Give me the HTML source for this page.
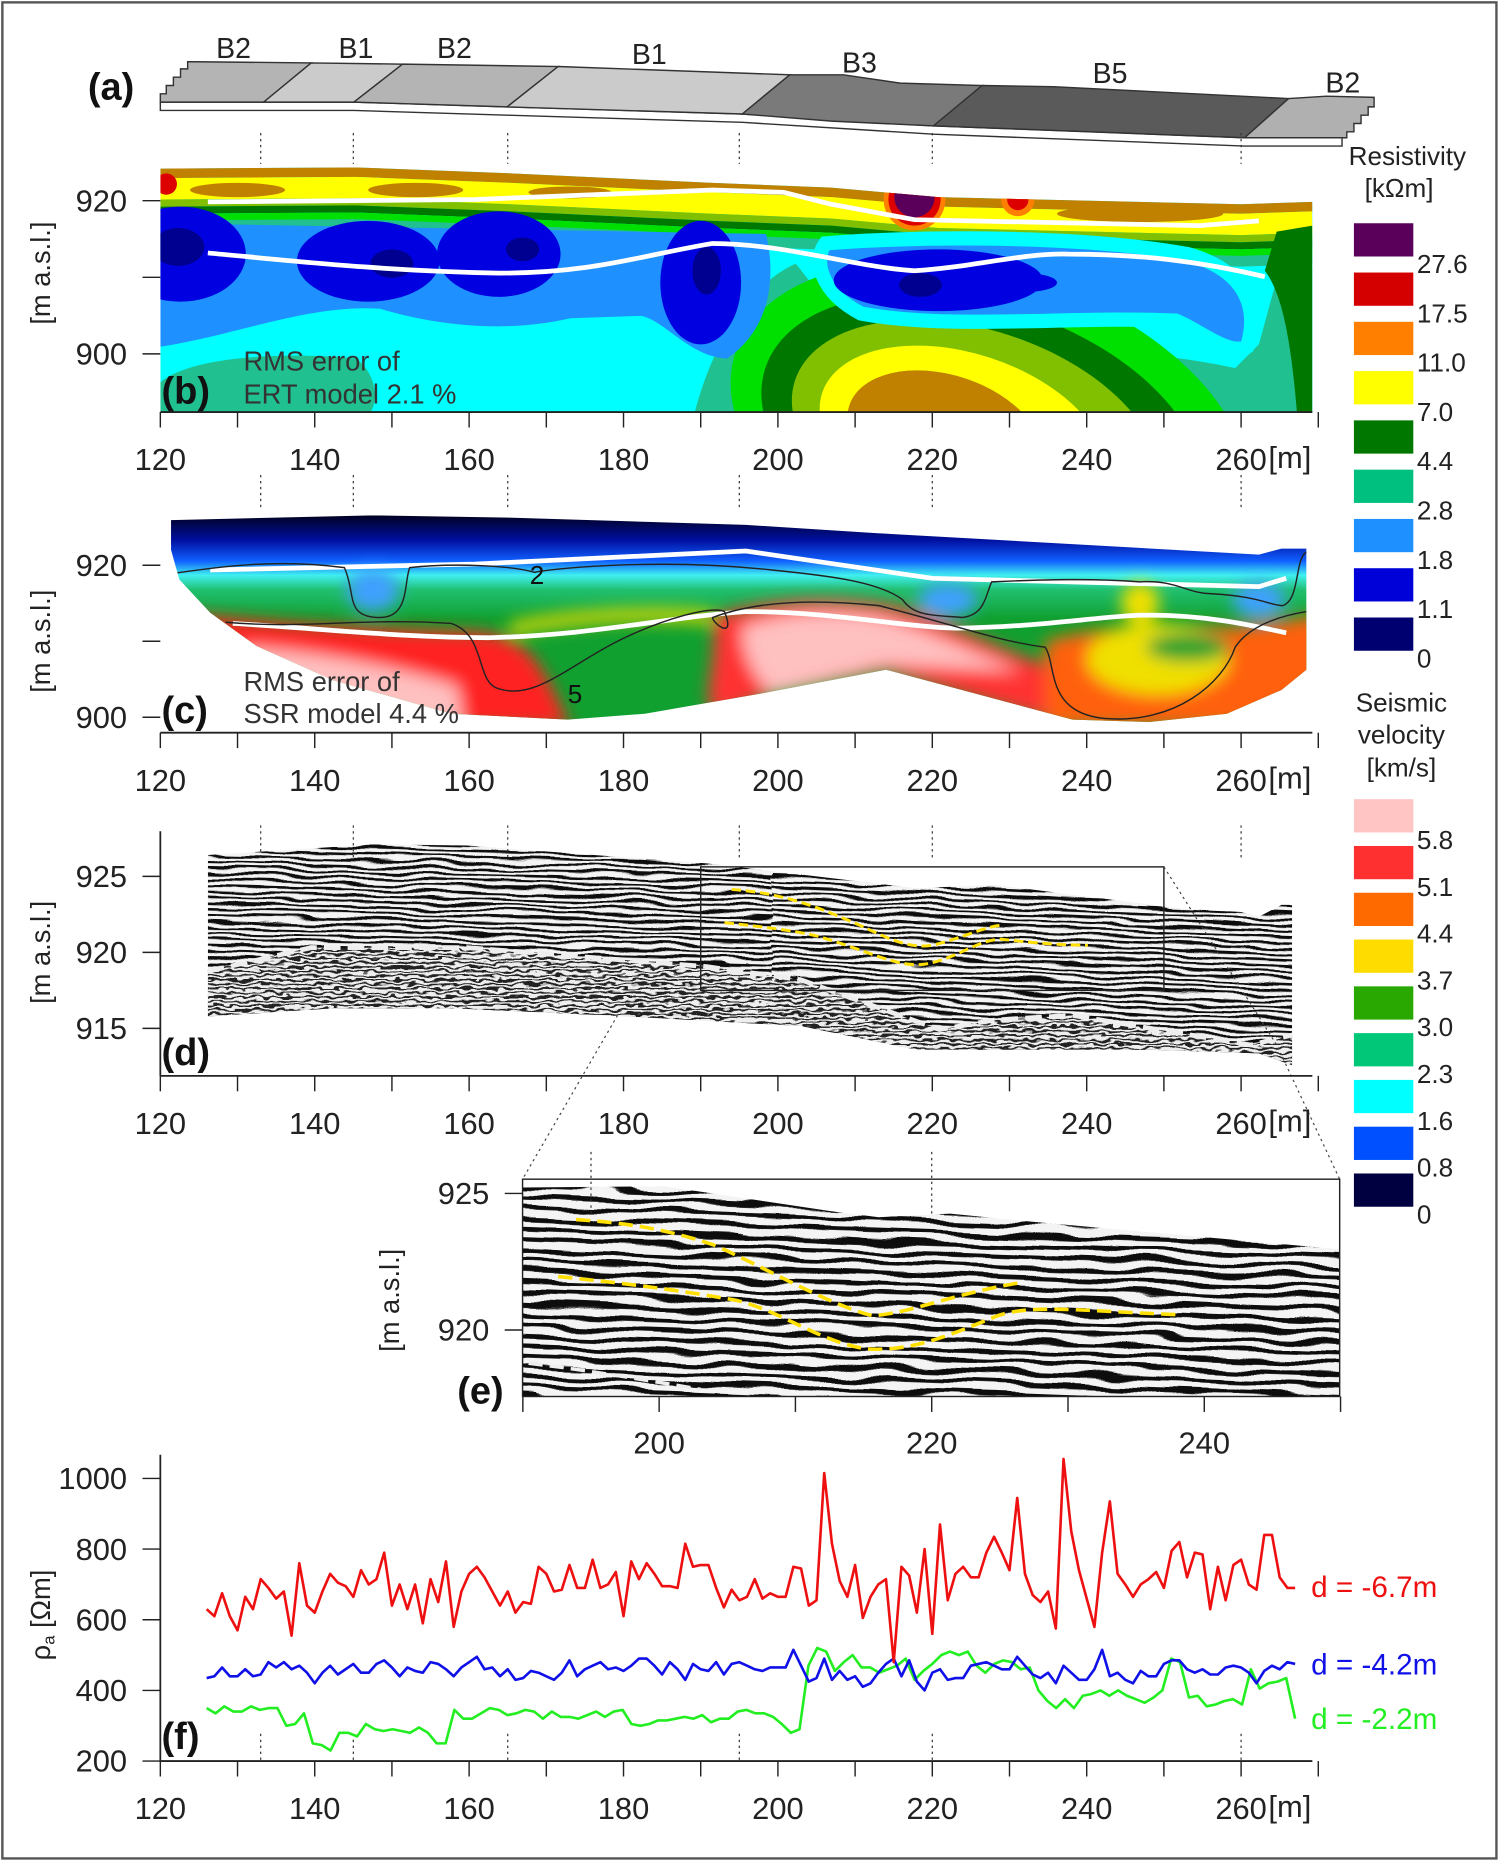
<!DOCTYPE html>
<html><head><meta charset="utf-8">
<style>
html,body{margin:0;padding:0;background:#fff;}
svg{display:block;}
text{font-family:"Liberation Sans Narrow","Liberation Sans",sans-serif;}
.tk{font-size:26px;fill:#222;}
.lg{font-family:"Liberation Sans",sans-serif;font-size:22px;fill:#222;}
.pl{font-family:"Liberation Sans Narrow","Liberation Sans",sans-serif;font-size:32px;font-weight:bold;fill:#111;}
</style></head>
<body>
<svg id="fig" width="1500" height="1862" viewBox="0 0 1263 1568" preserveAspectRatio="none" xmlns="http://www.w3.org/2000/svg">
<defs>
 <clipPath id="clipB"><path d="M135,142 L300,141 L430,146 L600,154 L700,158 L790,166 L1045,172 L1105,170 L1105,347 L135,347Z"/></clipPath>
 <clipPath id="clipC"><path d="M144,438 L314,434 L432,436 L628,442 L739,449 L1060,467 L1079,462 L1100,462 L1100,564 L1079,581 L1033,601 L968,608 L903,606 L746,564 L641,584 L543,601 L478,606 L380,601 L281,573 L216,544 L177,516 L151,488 L144,463Z"/></clipPath>
 <clipPath id="clipD"><path d="M175,720 L222,717 L314,711 L393,712 L595,727 L772,748 L837,745 L994,765 L1045,768 L1060,772 L1079,762 L1088,762 L1088,897 L1060,887 L968,884 L772,884 L674,864 L510,855 L380,849 L281,849 L175,856Z"/></clipPath>
 <clipPath id="clipDlow"><path d="M170,818 L262,798 L393,798 L595,814 L674,825 L791,867 L837,859 L903,855 L1053,880 L1099,869 L1099,900 L170,900Z"/></clipPath>
 <clipPath id="clipE"><path d="M440,1000 L560,999 L700,1020 L740,1025 L800,1022 L860,1028 L1128,1052 L1128,1176 L440,1176Z"/></clipPath>
 <linearGradient id="gC" x1="0" y1="434" x2="0" y2="608" gradientUnits="userSpaceOnUse">
  <stop offset="0" stop-color="#000020"/><stop offset="0.12" stop-color="#0010a0"/>
  <stop offset="0.22" stop-color="#1060ff"/><stop offset="0.29" stop-color="#40f0f0"/>
  <stop offset="0.36" stop-color="#20c070"/><stop offset="0.5" stop-color="#10a030"/><stop offset="1" stop-color="#10a030"/>
 </linearGradient>
 <filter id="blur6" x="-20%" y="-20%" width="140%" height="140%"><feGaussianBlur stdDeviation="7"/></filter>
 <pattern id="strD" width="60" height="5" patternUnits="userSpaceOnUse"><rect width="60" height="5" fill="#f4f4f4"/><rect width="60" height="2.2" fill="#111"/></pattern>
 <pattern id="strDn" width="60" height="3.6" patternUnits="userSpaceOnUse"><rect width="60" height="3.6" fill="#eee"/><rect width="60" height="1.6" fill="#222"/></pattern>
 <pattern id="strE" width="60" height="9" patternUnits="userSpaceOnUse"><rect width="60" height="9" fill="#f4f4f4"/><rect width="60" height="4" fill="#111"/></pattern>
 <filter id="wavD" filterUnits="userSpaceOnUse" x="160" y="690" width="960" height="230">
  <feTurbulence type="fractalNoise" baseFrequency="0.02 0.08" numOctaves="2" seed="4" result="n"/>
  <feDisplacementMap in="SourceGraphic" in2="n" scale="9" xChannelSelector="R" yChannelSelector="G"/>
 </filter>
 <filter id="wavDn" filterUnits="userSpaceOnUse" x="160" y="690" width="960" height="230">
  <feTurbulence type="fractalNoise" baseFrequency="0.09 0.2" numOctaves="2" seed="9" result="n"/>
  <feDisplacementMap in="SourceGraphic" in2="n" scale="7" xChannelSelector="R" yChannelSelector="G"/>
 </filter>
 <filter id="wavE" filterUnits="userSpaceOnUse" x="430" y="985" width="710" height="200">
  <feTurbulence type="fractalNoise" baseFrequency="0.015 0.05" numOctaves="2" seed="11" result="n"/>
  <feDisplacementMap in="SourceGraphic" in2="n" scale="14" xChannelSelector="R" yChannelSelector="G"/>
 </filter>
</defs>

<rect x="2" y="2" width="1258" height="1563" fill="none" stroke="#555" stroke-width="2"/>

<!-- Panel (a) -->
<g stroke="#333" stroke-width="1.2">
 <path d="M135,86 L222,86 L298,86 L427,90 L625,96 L786,106 L1048,116 L1130,116 L1130,123 L1048,123 L786,113 L625,103 L427,97 L298,93 L222,93 L135,93Z" fill="#fff"/>
 <path d="M165,52 L262,53 L222,86 L135,86 L135,79 L140,79 L140,72 L146,72 L146,65 L152,65 L152,58 L158,58 L158,52Z" fill="#b4b4b4"/>
 <path d="M262,53 L339,54 L298,86 L222,86Z" fill="#cbcbcb"/>
 <path d="M339,54 L470,56 L427,90 L298,86Z" fill="#b4b4b4"/>
 <path d="M470,56 L665,63 L625,96 L427,90Z" fill="#cbcbcb"/>
 <path d="M665,63 L710,63 L758,70 L827,72 L786,106 L700,102 L625,96Z" fill="#7a7a7a"/>
 <path d="M827,72 L887,73 L1085,83 L1048,116 L920,111 L786,106Z" fill="#5a5a5a"/>
 <path d="M1085,83 L1117,81 L1157,82 L1157,90 L1152,90 L1152,97 L1146,97 L1146,104 L1140,104 L1140,111 L1134,111 L1134,116 L1048,116Z" fill="#b0b0b0"/>
</g>
<text class="pl" x="74" y="84">(a)</text>
<g font-size="24" fill="#222" font-family="Liberation Sans Narrow,Liberation Sans,sans-serif">
 <text x="182" y="49">B2</text>
 <text x="285" y="49">B1</text>
 <text x="368" y="49">B2</text>
 <text x="532" y="54">B1</text>
 <text x="709" y="61">B3</text>
 <text x="920" y="70">B5</text>
 <text x="1116" y="78">B2</text>
</g>

<!-- Panel (b) ERT -->
<g clip-path="url(#clipB)">
 <rect x="135" y="130" width="975" height="220" fill="#00ffff"/>
 <g fill="none">
  <path d="M135,143 L300,142 L430,147 L600,155 L700,159 L790,167 L1045,173 L1105,171" stroke="#c08000" stroke-width="14"/>
  <path d="M135,159 L300,158 L430,163 L600,171 L700,175 L790,183 L1045,189 L1105,187" stroke="#ffff00" stroke-width="18"/>
  <path d="M135,171 L300,170 L430,175 L600,183 L700,187 L790,195 L1045,201 L1105,199" stroke="#80c000" stroke-width="6"/>
  <path d="M135,177 L300,176 L430,181 L600,189 L700,193 L790,201 L1045,207 L1105,205" stroke="#007800" stroke-width="6"/>
  <path d="M135,183 L300,182 L430,187 L600,195 L700,199 L790,207 L1045,213 L1105,211" stroke="#00e000" stroke-width="6"/>
  <path d="M135,190 L300,189 L430,194 L600,202 L700,206 L790,214 L1045,220 L1105,218" stroke="#20c090" stroke-width="9"/>
 </g>
 <g fill="#c08000"><ellipse cx="200" cy="160" rx="40" ry="6"/><ellipse cx="350" cy="160" rx="40" ry="6"/><ellipse cx="480" cy="162" rx="35" ry="5"/><ellipse cx="960" cy="180" rx="70" ry="7"/></g>
 <path d="M585,347 C600,290 630,240 670,222 L700,260 C800,290 950,290 1040,310 L1060,290 L1075,235 L1105,225 L1105,347Z" fill="#20c090"/>
 <g transform="rotate(18 830 360)">
  <ellipse cx="835" cy="365" rx="225" ry="135" fill="#00e000"/>
  <ellipse cx="830" cy="370" rx="192" ry="112" fill="#007800"/>
  <ellipse cx="825" cy="372" rx="160" ry="92" fill="#80c000"/>
  <ellipse cx="815" cy="375" rx="125" ry="72" fill="#ffff00"/>
  <ellipse cx="800" cy="378" rx="85" ry="52" fill="#c08000"/>
 </g>
 <path d="M1075,195 L1105,190 L1105,347 L1092,347 C1088,300 1082,250 1065,228Z" fill="#007800"/>
 <path d="M135,347 L135,322 C160,300 240,296 300,302 C318,316 318,338 312,347Z" fill="#20c090"/>
 <path d="M135,188 L645,197 C655,240 645,280 612,302 C580,300 560,270 540,266 L480,268 C420,282 360,272 320,260 C260,256 200,282 135,292Z" fill="#1e90ff"/>
 <path d="M695,205 C750,200 900,196 1000,214 C1050,228 1060,260 1050,292 C1035,300 1010,278 990,270 C900,266 800,278 725,264 C690,246 685,218 695,205Z" fill="#1e90ff" stroke="#00ffff" stroke-width="12"/>
 <g fill="#0000e0">
  <ellipse cx="152" cy="214" rx="55" ry="40"/><ellipse cx="310" cy="220" rx="60" ry="34"/>
  <ellipse cx="420" cy="214" rx="52" ry="36"/><ellipse cx="590" cy="238" rx="34" ry="52"/>
  <ellipse cx="790" cy="236" rx="88" ry="26"/><ellipse cx="862" cy="238" rx="28" ry="8"/>
 </g>
 <g fill="#000090">
  <ellipse cx="150" cy="208" rx="22" ry="16"/><ellipse cx="330" cy="222" rx="18" ry="12"/>
  <ellipse cx="440" cy="210" rx="14" ry="10"/><ellipse cx="595" cy="228" rx="12" ry="20"/>
  <ellipse cx="775" cy="240" rx="18" ry="10"/>
 </g>
 <circle cx="770" cy="168" r="26" fill="#ff8000"/><circle cx="770" cy="168" r="22" fill="#dd0000"/><circle cx="770" cy="166" r="17" fill="#5a005a"/>
 <circle cx="857" cy="168" r="14" fill="#ff8000"/><circle cx="857" cy="168" r="9" fill="#dd0000"/>
 <circle cx="140" cy="155" r="9" fill="#dd0000"/>
 <path d="M175,170 L400,168 L600,160 L660,162 L700,172 L770,185 L1010,190 L1060,186" fill="none" stroke="#fff" stroke-width="4"/>
 <path d="M175,213 C250,220 320,228 420,230 C500,230 540,215 600,205 C660,205 720,225 770,228 C820,225 860,213 900,214 C960,214 1010,220 1065,233" fill="none" stroke="#fff" stroke-width="4"/>
</g>
<text x="205" y="312" font-size="23" fill="#333">RMS error of</text>
<text x="205" y="340" font-size="23" fill="#333">ERT model  2.1 %</text>
<text class="pl" x="136" y="340">(b)</text>

<!-- Panel (c) SSR -->
<g clip-path="url(#clipC)">
 <rect x="135" y="430" width="980" height="185" fill="url(#gC)"/>
 <g filter="url(#blur6)">
  <path d="M140,515 C200,522 300,530 400,532 C445,535 455,560 470,590 L480,612 L135,612Z" fill="#ff2020"/>
  <path d="M205,545 C260,548 330,560 385,578 L390,612 L200,612Z" fill="#ffc0c0"/>
  <path d="M600,520 C640,505 700,500 760,512 C800,525 840,545 880,560 L900,612 L746,566 L641,588 L600,605 C590,580 605,560 600,520Z" fill="#ff3030"/>
  <path d="M625,528 C660,515 710,512 750,522 C790,535 820,550 860,565 L746,560 L650,585 C630,565 625,545 625,528Z" fill="#ffc0c0"/>
  <path d="M880,540 C920,528 980,524 1020,528 C1060,530 1090,520 1115,518 L1115,612 L880,612Z" fill="#ff6010"/>
  <ellipse cx="975" cy="555" rx="60" ry="30" fill="#f0e000"/>
  <ellipse cx="1000" cy="545" rx="35" ry="12" fill="#10a030"/>
  <ellipse cx="960" cy="508" rx="16" ry="18" fill="#f0e000"/>
  <ellipse cx="314" cy="497" rx="22" ry="18" fill="#40a0ff"/>
  <ellipse cx="798" cy="505" rx="25" ry="14" fill="#40a0ff"/>
  <ellipse cx="1060" cy="505" rx="22" ry="15" fill="#40a0ff"/>
  <path d="M430,530 C470,520 540,515 600,520" fill="none" stroke="#f0e000" stroke-width="10"/>
 </g>
 <path d="M177,480 L400,475 L628,464 L785,487 L1060,494 L1083,487" fill="none" stroke="#fff" stroke-width="4"/>
 <path d="M196,525 C280,530 340,537 412,537 C500,535 560,520 628,515 C700,515 760,528 805,529 C880,528 930,518 968,518 C1020,518 1060,528 1083,533" fill="none" stroke="#fff" stroke-width="4"/>
 <g fill="none" stroke="#222" stroke-width="1.2">
  <path d="M145,483 C180,478 230,470 290,478 C300,500 290,520 320,520 C345,520 340,490 345,478 C380,474 430,476 450,482 C470,478 560,470 650,480 C700,485 740,490 760,505 C770,520 790,518 810,520 C830,518 830,500 835,490 C880,488 920,487 960,490 C990,488 1000,500 1020,500 C1060,502 1070,510 1080,510 C1095,505 1090,470 1100,465"/>
  <path d="M190,524 C260,530 300,520 380,525 C410,535 400,575 420,580 C450,590 480,560 520,540 C560,520 600,510 610,515 C620,540 600,525 600,520 C640,505 690,505 740,510 C800,525 840,540 880,545 C890,560 880,600 930,605 C990,610 1030,575 1040,545 C1050,530 1070,520 1100,515"/>
 </g>
</g>
<text x="446" y="492" font-size="22" fill="#111">2</text>
<text x="478" y="592" font-size="22" fill="#111">5</text>
<text x="205" y="582" font-size="23" fill="#333">RMS error of</text>
<text x="205" y="609" font-size="23" fill="#333">SSR model  4.4 %</text>
<text class="pl" x="136" y="609">(c)</text>

<!-- Panel (d) GPR -->
<g clip-path="url(#clipD)">
 <g filter="url(#wavD)">
  <rect x="165" y="695" width="500" height="220" fill="url(#strD)" transform="skewY(1.5) translate(0,-5)"/>
  <rect x="650" y="695" width="460" height="220" fill="url(#strD)" transform="skewY(2.2) translate(0,-14)"/>
 </g>
 <g clip-path="url(#clipDlow)"><g filter="url(#wavDn)"><rect x="165" y="695" width="950" height="220" fill="url(#strDn)"/></g></g>
 <path d="M175,818 L262,798 L393,798 L595,814 L674,825 L791,867 L837,859 L903,855 L1053,880 L1099,869" fill="none" stroke="#eee" stroke-width="4" stroke-dasharray="14 6"/>
</g>
<path d="M616,749 C660,752 690,765 707,772 C740,785 760,800 785,796 C810,790 830,780 844,779" fill="none" stroke="#ffe000" stroke-width="2.5" stroke-dasharray="8 4"/>
<path d="M610,777 C640,780 670,784 687,788 C730,800 755,815 778,812 C805,808 825,790 844,791 C870,794 895,796 916,796" fill="none" stroke="#ffe000" stroke-width="2.5" stroke-dasharray="8 4"/>
<rect x="590" y="730" width="390" height="104" fill="none" stroke="#222" stroke-width="1.2"/>
<g stroke="#444" stroke-width="1" stroke-dasharray="2 3" fill="none">
 <path d="M520,855 L440,993"/>
 <path d="M980,730 L1075,880 L1128,993"/>
</g>
<text class="pl" x="136" y="897">(d)</text>

<!-- Panel (e) zoom -->
<g clip-path="url(#clipE)">
 <g filter="url(#wavE)">
  <rect x="430" y="985" width="720" height="200" fill="url(#strE)" transform="skewY(2) translate(0,-18)"/>
 </g>
 <path d="M445,1148 C480,1152 520,1158 590,1170" fill="none" stroke="#eee" stroke-width="3" stroke-dasharray="12 6"/>
</g>
<path d="M485,1027 C530,1030 560,1035 600,1048 C640,1065 700,1100 735,1108 C770,1105 800,1090 860,1080" fill="none" stroke="#ffe000" stroke-width="3" stroke-dasharray="12 6"/>
<path d="M470,1075 C520,1080 570,1086 620,1095 C660,1105 690,1130 730,1136 C770,1138 800,1124 840,1108 C870,1098 910,1104 990,1107" fill="none" stroke="#ffe000" stroke-width="3" stroke-dasharray="12 6"/>
<rect x="440" y="993" width="688" height="183" fill="none" stroke="#222" stroke-width="1.2"/>
<text class="pl" x="385" y="1182">(e)</text>

<!-- Colorbars -->
<g>
 <text class="lg" x="1185" y="139" text-anchor="middle">Resistivity</text>
 <text class="lg" x="1178" y="166" text-anchor="middle">[kΩm]</text>
</g>
<g>
 <text class="lg" x="1180" y="599" text-anchor="middle">Seismic</text>
 <text class="lg" x="1180" y="626" text-anchor="middle">velocity</text>
 <text class="lg" x="1180" y="654" text-anchor="middle">[km/s]</text>
</g>

<text transform="translate(42,230) rotate(-90)" text-anchor="middle" font-size="23" fill="#222">[m a.s.l.]</text>
<text transform="translate(42,540) rotate(-90)" text-anchor="middle" font-size="23" fill="#222">[m a.s.l.]</text>
<text transform="translate(42,802) rotate(-90)" text-anchor="middle" font-size="23" fill="#222">[m a.s.l.]</text>
<text transform="translate(336,1095) rotate(-90)" text-anchor="middle" font-size="23" fill="#222">[m a.s.l.]</text>
<text transform="translate(42,1360) rotate(-90)" text-anchor="middle" font-size="23" fill="#222">ρ<tspan font-size="14" dy="4">a</tspan><tspan dy="-4"> [Ωm]</tspan></text>

<g id="dyn"></g>
</svg>

<script>
// ----- colorbar data -----
const resColors = ["#5a005a","#d40000","#ff8000","#ffff00","#007800","#00c080","#1e90ff","#0000d8","#000070"];
const resLabels = ["27.6","17.5","11.0","7.0","4.4","2.8","1.8","1.1","0"];
const velColors = ["#ffc4c4","#ff3030","#ff6a00","#ffdc00","#28a800","#00c878","#00ffff","#0050ff","#000040"];
const velLabels = ["5.8","5.1","4.4","3.7","3.0","2.3","1.6","0.8","0"];

// ----- panel f data (apparent resistivity, Ωm) -----
const startM = 126, endM = 267;
const red67 = [630,610,675,610,570,665,630,715,690,660,680,555,760,640,620,680,730,705,695,665,740,700,715,790,640,700,630,700,590,715,650,765,580,680,730,750,720,680,640,680,620,650,645,750,730,680,685,755,690,690,770,690,700,735,610,765,715,760,730,695,695,690,815,750,755,755,690,635,685,655,665,715,660,675,665,665,750,745,640,655,1015,815,710,665,755,605,665,700,715,480,750,725,620,800,560,870,655,730,750,720,720,790,835,790,740,945,730,670,650,680,575,1055,850,740,660,580,790,935,730,700,665,700,715,735,690,795,820,720,790,785,630,750,655,755,770,700,685,840,840,720,690,690];
const blue42 = [435,440,465,440,440,460,440,445,480,465,480,460,470,450,420,450,470,445,460,475,450,450,475,485,465,440,465,455,450,480,475,460,440,465,480,495,460,465,440,460,430,435,455,450,440,430,450,485,440,460,470,480,460,465,455,470,490,490,470,445,480,460,430,475,460,455,480,445,475,480,470,460,455,465,465,465,515,470,425,435,490,430,455,430,440,410,420,450,475,490,440,485,425,400,450,460,430,435,435,470,475,480,470,460,460,495,470,445,435,450,420,470,450,430,430,460,515,440,450,430,420,455,440,440,475,485,485,460,450,460,445,445,465,470,465,450,420,455,470,460,480,475];
const green22 = [350,335,355,340,340,355,345,350,350,300,305,335,250,245,230,280,280,270,305,290,285,290,285,280,295,280,250,250,345,320,320,335,350,345,330,335,345,340,320,340,325,325,320,330,340,325,340,345,305,300,305,315,315,320,325,320,330,310,320,320,340,345,335,335,325,305,280,290,470,520,510,455,480,500,465,465,450,460,470,490,430,455,475,500,510,500,510,470,450,475,485,480,460,465,400,370,350,375,350,385,390,400,385,400,385,375,365,380,400,490,480,380,385,355,360,370,375,360,460,405,420,425,435,320];
const fYTicks = [200,400,600,800,1000];
const mTicks = [120,140,160,180,200,220,240,260];
const eTicks = [200,220,240];
const markerM = [133,145,165,195,220,260];
const bYTicks = [900,920], cYTicks = [900,920], dYTicks = [915,920,925], eYTicks = [920,925];

const NS = "http://www.w3.org/2000/svg";
const dyn = document.getElementById("dyn");
function mk(tag, attrs, parent){ const e=document.createElementNS(NS,tag); for(const k in attrs) e.setAttribute(k,attrs[k]); (parent||dyn).appendChild(e); return e; }

const xM = m => 135 + (m-120)*6.5;
const xE = m => 555 + (m-200)*11.475;
const yF = v => 1483 - (v-200)*0.2975;
const yB = v => 298 - (v-900)*6.45;
const yC = v => 604 - (v-900)*6.4;
const yD = v => 866 - (v-915)*12.8;
const yE = v => 1120 - (v-920)*23;

resColors.forEach((c,i)=>{
  const r=mk("rect",{x:1140,y:188+i*41.5,width:50,height:28,fill:c});
  
  
  const t=mk("text",{x:1193,y:230+i*41.5,class:"lg"}); t.textContent=resLabels[i];
  
  
});
velColors.forEach((c,i)=>{
  const r=mk("rect",{x:1140,y:673+i*39.4,width:50,height:28,fill:c});
  
  
  const t=mk("text",{x:1193,y:715+i*39.4,class:"lg"}); t.textContent=velLabels[i];
  
  
});

function xAxis(yLine, labelY, name){
  const g=mk("g",{});
  
  
  mk("line",{x1:135,x2:1105,y1:yLine,y2:yLine,stroke:"#222","stroke-width":1.5},g);
  for(let m=120;m<=270;m+=10) mk("line",{x1:xM(m),x2:xM(m),y1:yLine,y2:yLine+13,stroke:"#222","stroke-width":1.2},g);
  mTicks.forEach(m=>{
    const t=mk("text",{x:xM(m),y:labelY,class:"tk","text-anchor":"middle"},g); t.textContent=String(m);
    
    
  });
  const u=mk("text",{x:1068,y:labelY-2,class:"tk"},g); u.textContent="[m]";
  
  
}
xAxis(347,396,"x-axis-b"); xAxis(617,666,"x-axis-c"); xAxis(906,955,"x-axis-d"); xAxis(1483,1532,"x-axis-f");

function yAxis(ticks, fy, name, x0, line, y1, y2){
  const g=mk("g",{});
  
  
  if(line) mk("line",{x1:x0,x2:x0,y1:y1,y2:y2,stroke:"#222","stroke-width":1.5},g);
  ticks.forEach(v=>{
    mk("line",{x1:x0-15,x2:x0,y1:fy(v),y2:fy(v),stroke:"#222","stroke-width":1.2},g);
    const t=mk("text",{x:x0-28,y:fy(v)+9,class:"tk","text-anchor":"end"},g); t.textContent=String(v);
    
    
  });
}
yAxis(bYTicks,yB,"y-axis-b",135,false);
mk("line",{x1:120,x2:135,y1:yB(910),y2:yB(910),stroke:"#222","stroke-width":1.2});
yAxis(cYTicks,yC,"y-axis-c",135,false);
mk("line",{x1:120,x2:135,y1:yC(910),y2:yC(910),stroke:"#222","stroke-width":1.2});
yAxis(dYTicks,yD,"y-axis-d",135,true,700,906);
yAxis(eYTicks,yE,"y-axis-e",440,false);
yAxis(fYTicks,yF,"y-axis-f",135,true,1225,1483);

const ge=mk("g",{});


for(let m=190;m<=250;m+=10) mk("line",{x1:xE(m),x2:xE(m),y1:1176,y2:1189,stroke:"#222","stroke-width":1.2},ge);
eTicks.forEach(m=>{
  const t=mk("text",{x:xE(m),y:1224,class:"tk","text-anchor":"middle"},ge); t.textContent=String(m);
  
  
});

const markerRanges=[[112,138],[400,430],[695,722],[1460,1483]];
markerM.forEach(m=>{
  markerRanges.forEach(r=>{
    const l=mk("line",{x1:xM(m),x2:xM(m),y1:r[0],y2:r[1],stroke:"#333","stroke-width":1,"stroke-dasharray":"2 3"});
    
    
  });
});
[195,220].forEach(m=>{
  const l=mk("line",{x1:xE(m),x2:xE(m),y1:970,y2:1022,stroke:"#333","stroke-width":1,"stroke-dasharray":"2 3"});
  
  
});

function series(vals, color, name){
  const step=(endM-startM)/(vals.length-1);
  const d=vals.map((v,i)=>(i?"L":"M")+xM(startM+i*step).toFixed(1)+","+yF(v).toFixed(1)).join(" ");
  const p=mk("path",{d:d,fill:"none",stroke:color,"stroke-width":2.2,"stroke-linejoin":"round"});
  
  
}
series(green22,"#22ee22","series-d-2.2m");
series(blue42,"#1010e8","series-d-4.2m");
series(red67,"#ee1010","series-d-6.7m");
[["d = -6.7m","#ee1010",1345],["d = -4.2m","#1010e8",1410],["d = -2.2m","#22ee22",1456]].forEach(a=>{
  const t=mk("text",{x:1104,y:a[2],"font-size":25,fill:a[1]}); t.textContent=a[0];
  
  
});
const fl=mk("text",{x:136,y:1473,class:"pl"}); fl.textContent="(f)";


</script>
</body></html>
